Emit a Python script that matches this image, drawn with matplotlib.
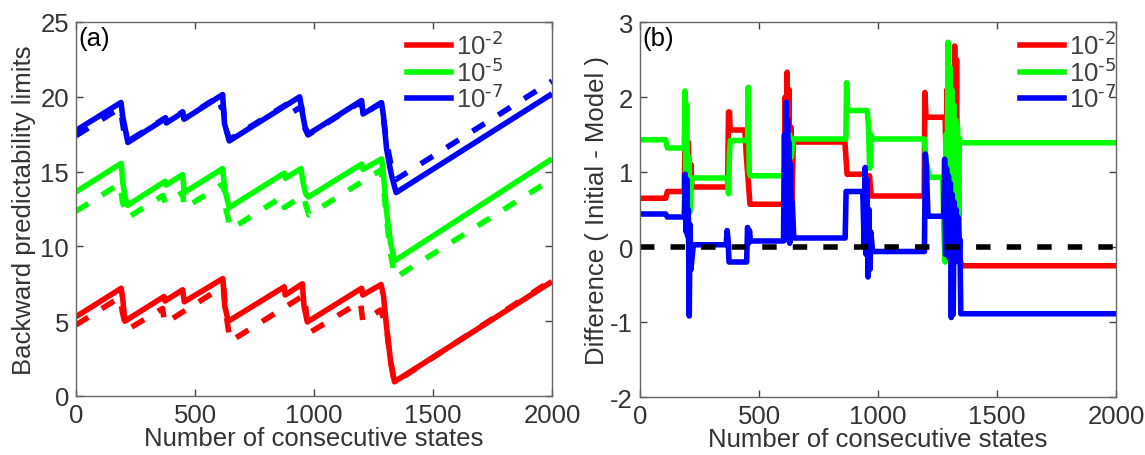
import matplotlib
matplotlib.use("Agg")
import matplotlib.pyplot as plt
from matplotlib.lines import Line2D

plt.rcParams['font.family'] = ['Liberation Sans', 'DejaVu Sans']
plt.rcParams['mathtext.default'] = 'regular'
plt.rcParams['axes.unicode_minus'] = False

# ---------------- Panel (a): backward predictability limits ----------------
red_solid_x = [0, 190, 197, 205, 370, 374, 448, 455, 617, 625, 640, 875, 879, 951, 958, 972,
               1200, 1205, 1282, 1292, 1305, 1322, 1338, 2000]
red_solid_y = [5.3, 7.2, 6.4, 5.0, 6.65, 6.35, 7.1, 6.3, 7.85, 6.0, 5.0, 7.3, 6.75, 7.5, 6.0, 4.95,
               7.2, 6.75, 7.45, 6.7, 4.6, 2.3, 0.95, 7.65]
red_dash_x = [0, 185, 195, 212, 364, 372, 620, 630, 648, 960, 968, 978, 1195, 1205, 1280, 1292,
              1305, 1322, 1338, 2000]
red_dash_y = [4.75, 6.6, 5.6, 4.4, 5.85, 4.85, 7.33, 5.5, 3.65, 6.75, 5.5, 4.2, 6.3, 5.0, 5.75, 5.2,
              4.5, 2.3, 0.9, 7.75]

green_solid_x = [0, 190, 197, 208, 217, 374, 379, 448, 455, 616, 625, 644, 875, 880, 945, 955, 966,
                 976, 1200, 1206, 1284, 1292, 1305, 1322, 1340, 2000]
green_solid_y = [13.65, 15.55, 14.2, 13.2, 12.75, 14.35, 14.1, 14.8, 13.6, 15.2, 13.8, 12.6, 14.9,
                 14.55, 15.2, 14.2, 13.5, 13.3, 15.5, 15.15, 15.85, 14.8, 12.3, 10.2, 9.05, 15.85]
green_dash_x = [0, 185, 195, 215, 365, 375, 448, 455, 620, 630, 650, 868, 875, 955, 965, 978,
                1280, 1292, 1305, 1322, 1340, 2000]
green_dash_y = [12.35, 14.2, 13.0, 11.9, 13.4, 12.9, 13.6, 12.55, 14.2, 12.5, 11.15, 13.33, 12.6,
                13.4, 12.8, 12.1, 15.1, 14.0, 11.8, 9.5, 7.9, 14.5]

blue_solid_x = [0, 189, 196, 210, 218, 376, 380, 448, 454, 616, 624, 644, 940, 948, 962, 976,
                1200, 1206, 1284, 1292, 1305, 1325, 1345, 2000]
blue_solid_y = [17.75, 19.62, 18.7, 17.6, 16.95, 18.55, 18.25, 18.95, 18.5, 20.15, 18.2, 17.05,
                20.0, 19.2, 18.0, 17.5, 19.75, 18.85, 19.6, 18.7, 16.5, 14.8, 13.6, 20.2]
blue_dash_x = [0, 178, 183, 192, 200, 215, 376, 381, 448, 454, 603, 610, 618, 628, 646, 905, 912,
               948, 958, 975, 1195, 1203, 1282, 1290, 1305, 1325, 1342, 2000]
blue_dash_y = [17.4, 19.18, 18.55, 18.65, 17.8, 17.0, 18.6, 18.3, 19.0, 18.55, 20.05, 19.3, 19.35,
               17.9, 17.15, 19.7, 19.0, 19.35, 18.0, 17.45, 19.65, 18.8, 19.6, 18.8, 17.0, 15.3,
               14.45, 21.05]

# ---------------- Panel (b): difference (initial - model) ----------------
red_diff_x = [0, 108, 115, 186, 189, 193, 197, 203, 208, 214, 218, 368, 372, 376, 379, 441, 446,
              452, 458, 462, 606, 610, 614, 618, 622, 626, 630, 634, 638, 644, 861, 870, 945, 949,
              960, 964, 972, 1194, 1197, 1202, 1282, 1286, 1290, 1294, 1298, 1302, 1306, 1310,
              1314, 1318, 1322, 1326, 1330, 1334, 1338, 1342, 1350, 2000]
red_diff_y = [0.65, 0.65, 0.74, 0.74, 1.42, 0.62, 1.38, 1.40, 0.85, 1.1, 0.80, 0.80, 1.80, 1.80,
              1.56, 1.56, 1.25, 1.0, 0.75, 0.57, 0.57, 2.0, 0.9, 2.33, 0.4, 2.1, 0.2, 1.6, 0.5,
              1.40, 1.40, 0.97, 0.97, 0.72, 0.72, 0.95, 0.68, 0.68, 2.06, 1.73, 1.73, 1.2, 2.1,
              0.9, 2.3, 0.5, 1.9, 1.0, 2.2, 0.3, 2.68, 0.2, 2.5, 0.0, 1.0, -0.1, -0.25, -0.25]

green_diff_x = [0, 108, 115, 186, 189, 192, 196, 200, 205, 210, 217, 368, 372, 376, 380, 452, 455,
                459, 463, 605, 612, 620, 628, 636, 644, 865, 868, 872, 955, 960, 965, 970, 977,
                1195, 1200, 1215, 1272, 1278, 1282, 1286, 1290, 1294, 1298, 1302, 1306, 1310,
                1314, 1318, 1322, 1326, 1330, 1334, 1338, 1342, 1346, 2000]
green_diff_y = [1.43, 1.43, 1.32, 1.32, 2.08, 1.0, 1.9, 0.6, 1.2, 0.47, 0.92, 0.92, 0.71, 1.25,
                1.42, 1.42, 2.13, 1.0, 0.95, 0.95, 1.3, 0.8, 1.5, 1.2, 1.44, 1.44, 2.19, 1.82,
                1.82, 1.6, 1.05, 1.5, 1.44, 1.44, 1.2, 0.93, 0.93, 0.1, -0.2, 1.5, 0.2, 2.73, 0.5,
                2.4, 0.0, 2.1, 0.6, 1.9, 0.4, 1.7, 0.8, 1.6, 0.3, 1.45, 1.39, 1.39]

blue_diff_x = [0, 108, 115, 186, 190, 194, 197, 200, 203, 207, 210, 214, 224, 362, 366, 370, 374,
               448, 452, 456, 460, 464, 603, 607, 611, 614, 617, 620, 623, 626, 629, 632, 636,
               640, 646, 862, 866, 936, 942, 946, 950, 954, 958, 962, 966, 970, 977, 1195, 1199,
               1204, 1210, 1276, 1280, 1284, 1288, 1292, 1296, 1300, 1304, 1308, 1312, 1316,
               1320, 1324, 1328, 1332, 1336, 1340, 1344, 1348, 2000]
blue_diff_y = [0.44, 0.44, 0.40, 0.40, 0.97, 0.20, 0.90, 0.15, 0.50, -0.92, 0.30, -0.30, 0.03,
               0.03, 0.22, 0.10, -0.20, -0.20, 0.26, 0.05, 0.22, 0.08, 0.08, 1.50, 0.40, 1.93,
               0.10, 1.70, 0.30, 1.40, 0.05, 1.10, 0.25, 0.60, 0.12, 0.12, 0.74, 0.74, 0.0, 1.06,
               -0.1, 0.9, -0.40, 0.5, -0.30, 0.2, -0.06, -0.06, 1.24, 1.0, 0.41, 0.41, 1.17,
               -0.1, 1.05, 0.1, 0.95, -0.15, 0.85, -0.94, 0.7, -0.9, 0.6, -0.2, 0.5, -0.1, 0.4,
               -0.15, 0.1, -0.89, -0.89]

legend_labels = ['10$^{\\text{-2}}$', '10$^{\\text{-5}}$', '10$^{\\text{-7}}$']
colors = ['#ff0000', '#00ff00', '#0000ff']

LW = 4.0
DASH = (0, (2.6, 2.9))
TXT = '#333333'
FS = 18.5

fig = plt.figure(figsize=(11.45, 4.56), dpi=100)
W, H = 1145, 456
ax1 = fig.add_axes([76 / W, 1 - 397 / H, 476 / W, 374 / H])
ax2 = fig.add_axes([640 / W, 1 - 398 / H, 476 / W, 375 / H])

# panel (a)
for xs, ys, c in [(red_solid_x, red_solid_y, colors[0]),
                  (green_solid_x, green_solid_y, colors[1]),
                  (blue_solid_x, blue_solid_y, colors[2])]:
    ax1.plot(xs, ys, color=c, lw=LW, solid_capstyle='butt')
for xs, ys, c in [(red_dash_x, red_dash_y, colors[0]),
                  (green_dash_x, green_dash_y, colors[1]),
                  (blue_dash_x, blue_dash_y, colors[2])]:
    ax1.plot(xs, ys, color=c, lw=LW, linestyle=DASH)

ax1.set_xlim(0, 2000)
ax1.set_ylim(0, 25)
ax1.set_xticks([0, 500, 1000, 1500, 2000])
ax1.set_yticks([0, 5, 10, 15, 20, 25])
ax1.set_xlabel('Number of consecutive states', fontsize=FS, color=TXT, labelpad=-1)
ax1.set_ylabel('Backward predictability limits', fontsize=FS, color=TXT)
ax1.yaxis.set_label_coords(-0.084, 0.5)
ax1.text(0.006, 0.99, '(a)', transform=ax1.transAxes, ha='left', va='top',
         fontsize=FS, color='black')

# panel (b)
ax2.plot(red_diff_x, red_diff_y, color=colors[0], lw=LW)
ax2.plot(green_diff_x, green_diff_y, color=colors[1], lw=LW)
ax2.plot(blue_diff_x, blue_diff_y, color=colors[2], lw=LW)
ax2.axhline(0, color='black', lw=LW, linestyle=DASH)

ax2.set_xlim(0, 2000)
ax2.set_ylim(-2, 3)
ax2.set_xticks([0, 500, 1000, 1500, 2000])
ax2.set_yticks([-2, -1, 0, 1, 2, 3])
ax2.set_xlabel('Number of consecutive states', fontsize=FS, color=TXT, labelpad=-1)
ax2.set_ylabel('Difference ( Initial - Model )', fontsize=FS, color=TXT)
ax2.yaxis.set_label_coords(-0.065, 0.5)
ax2.text(0.006, 0.99, '(b)', transform=ax2.transAxes, ha='left', va='top',
         fontsize=FS, color='black')

handles = [Line2D([], [], color=c, lw=LW) for c in colors]
for ax, lx in ((ax1, 0.695), (ax2, 0.798)):
    for s in ax.spines.values():
        s.set_color('#666666')
        s.set_linewidth(1.0)
    ax.tick_params(direction='in', length=5, width=1.0, color='#444444',
                   labelsize=FS, labelcolor=TXT, top=True, right=True, pad=5)
    ax.legend(handles, legend_labels, loc='upper left', bbox_to_anchor=(lx, 0.975),
              frameon=False, fontsize=FS, handlelength=1.7, handletextpad=0.2,
              labelspacing=-0.05, borderpad=0, borderaxespad=0, labelcolor='#404040')

fig.savefig('out.png', dpi=100)
